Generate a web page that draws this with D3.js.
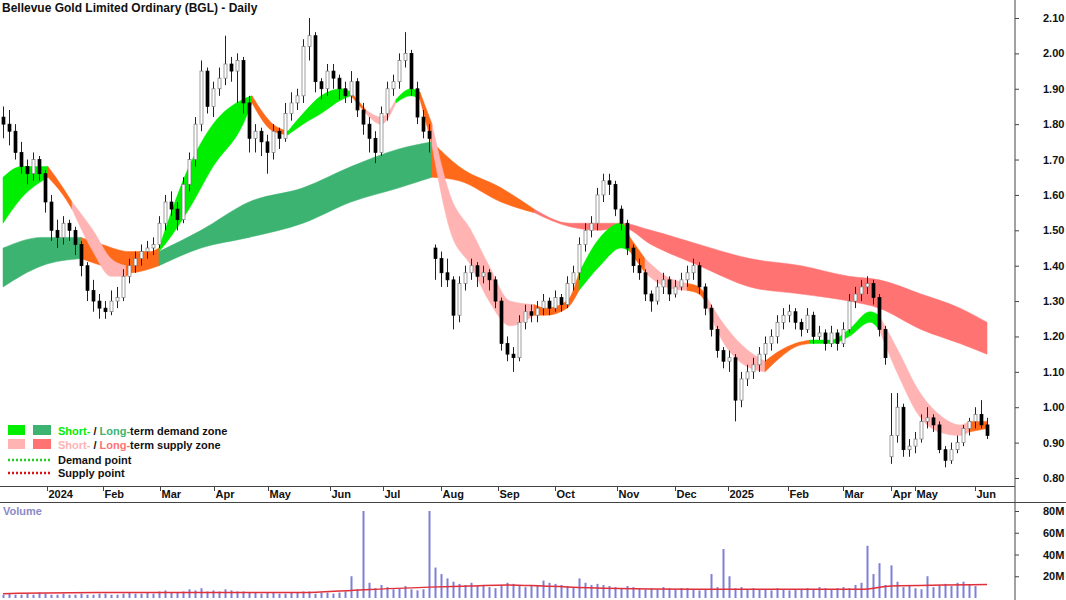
<!DOCTYPE html>
<html><head><meta charset="utf-8">
<script src="https://cdn.jsdelivr.net/npm/d3@7"></script>
<style>body{margin:0;background:#fff}svg{display:block;font-family:Arial,"Liberation Sans",sans-serif}</style>
</head><body>
<svg id="chart" width="1066" height="600"></svg>
<script>
// daily bars, "open high low close" in cents
const bars = [
"182 185 176 180","180 184 174 178","178 180 170 172","172 175 166 168","168 170 163 166","166 172 164 170","170 171 164 166","166 167 155 158",
"158 160 147 150","150 153 145 148","148 154 146 152","152 153 147 150","150 151 143 146","146 147 137 140","140 141 130 133","133 136 127 130",
"130 132 125 128","128 130 125 127","127 133 126 130","130 134 128 131","131 139 130 137","137 142 135 140","140 144 138 142","142 146 140 144",
"144 147 142 145","145 148 143 146","146 154 145 152","152 160 150 158","158 161 154 156","156 158 150 153","153 165 152 163","163 172 161 170",
"170 182 168 180","180 198 178 195","195 196 183 185","185 192 182 190","190 196 188 193","193 205 191 197","197 199 192 195","195 200 186 198",
"198 199 183 186","186 188 172 176","176 180 172 178","178 179 171 175","175 177 166 172","172 180 170 178","178 179 173 176","176 186 175 183",
"183 189 181 186","186 190 184 188","188 204 186 202","202 210 198 205","205 206 189 192","192 193 187 190","190 197 188 195","195 197 190 193",
"193 194 187 190","190 192 186 188","188 195 186 192","192 193 182 184","184 186 177 180","180 182 172 176","176 178 169 172","172 185 171 183",
"183 192 181 190","190 194 188 192","192 200 190 198","198 206 196 200","200 201 188 190","190 192 180 182","182 184 176 178","178 180 172 176",
"145 146 136 142","142 144 134 138","138 142 134 136","136 137 122 126","126 137 124 135","135 140 133 138","138 142 136 140","140 141 134 137",
"137 140 135 138","138 139 133 136","136 137 128 130","130 131 116 118","118 120 113 115","115 117 110 114","114 126 113 124","124 129 122 127",
"127 129 124 126","126 130 124 128","128 132 126 130","130 131 126 128","128 133 127 131","131 132 127 129","129 137 128 135","135 140 133 138",
"138 148 136 146","146 152 144 150","150 154 148 152","152 162 150 160","160 166 158 164","164 166 160 163","163 164 154 156","156 157 150 152",
"152 153 143 145","145 146 138 140","140 142 136 138","138 139 130 132","132 133 127 130","130 136 129 134","134 138 132 136","136 137 130 132",
"132 136 131 134","134 138 133 136","136 140 134 138","138 142 136 140","140 141 132 134","134 135 126 128","128 129 120 122","122 123 114 116",
"116 117 111 113","113 116 110 114","114 115 96 102","102 110 100 108","108 112 106 110","110 114 108 112","112 117 110 115","115 120 113 118",
"118 122 116 120","120 126 118 124","124 128 122 126","126 129 124 127","127 128 122 124","124 125 120 122","122 128 121 126","126 127 118 120",
"120 123 119 121","121 122 116 118","118 123 117 121","121 122 116 118","118 124 117 122","122 132 121 130","130 134 128 132","132 136 130 134",
"134 137 132 135","135 136 129 131","131 132 120 122","122 123 112 114","86 104 84 92","92 104 90 100","100 101 86 88","88 91 86 89",
"89 93 87 91","91 98 90 96","96 100 94 97","97 98 93 95","95 96 87 88","88 89 83 85","85 90 84 88","88 92 87 90",
"90 95 89 94","94 97 92 96","96 100 94 98","98 102 94 95","95 97 91 92"
];
// volume per bar, millions
const volume = [
3,4,3,3,4,3,5,4,3,3,4,3,3,4,3,3,4,4,3,3,4,5,4,4,5,4,6,7,5,5,6,8,
7,9,6,7,6,8,7,6,6,5,5,4,5,5,4,4,5,5,6,6,4,5,5,4,5,6,20,8,80,14,9,12,
10,8,9,11,8,7,8,80,28,22,18,15,13,12,14,11,12,10,9,12,14,13,11,10,12,11,16,14,13,12,11,10,
18,14,12,13,12,11,10,9,11,10,9,8,9,8,10,9,8,9,9,8,7,8,22,10,45,20,9,10,8,9,
8,8,7,9,8,7,8,8,9,8,10,9,8,9,10,9,12,14,48,22,32,12,30,15,10,11,9,8,20,10,12,13,
11,14,15,12,11
];
// volume average line: [bar, value M]
const volAvg = [[0,4],[16,5],[50,5],[58,7],[71,10],[78,11],[84,12],[90,11],[100,9],[116,8],[123,8],[143,8],[148,11],[164,12.5]];

// short-term band: [bar, upper, lower, state]
const shortBand = [
[0,1.65,1.52,"g"],[3,1.68,1.59,"g"],[7.5,1.68,1.65,"o"],[10,1.62,1.60,"o"],[11.5,1.58,1.56,"p"],[15,1.50,1.44,"p"],[18,1.42,1.37,"p"],
[20.5,1.40,1.37,"o"],[26,1.45,1.44,"g"],[27,1.50,1.46,"g"],[31,1.68,1.56,"g"],[35,1.80,1.68,"g"],[40,1.87,1.80,"g"],[41.5,1.88,1.86,"o"],
[45,1.80,1.78,"o"],[47.5,1.78,1.77,"g"],[50,1.83,1.80,"g"],[53,1.88,1.83,"g"],[56.5,1.90,1.87,"g"],[58,1.89,1.88,"o"],[60.5,1.84,1.83,"p"],
[63,1.82,1.80,"p"],[65.5,1.87,1.86,"g"],[68,1.90,1.88,"g"],[69.5,1.89,1.87,"o"],[71.5,1.80,1.74,"p"],[74.5,1.60,1.50,"p"],[78,1.50,1.40,"p"],
[81,1.40,1.30,"p"],[84.5,1.30,1.23,"p"],[88.5,1.29,1.26,"o"],[90.5,1.28,1.26,"o"],[94,1.30,1.28,"o"],[96,1.38,1.33,"g"],[99.5,1.48,1.40,"g"],
[103,1.52,1.45,"g"],[104.5,1.48,1.44,"o"],[107,1.42,1.38,"p"],[110.5,1.37,1.34,"p"],[114,1.35,1.33,"o"],[116,1.34,1.32,"o"],[117,1.32,1.30,"p"],
[119.5,1.25,1.20,"p"],[123.5,1.17,1.12,"p"],[127,1.13,1.10,"o"],[129.5,1.16,1.14,"o"],[132,1.18,1.17,"o"],[134.5,1.19,1.18,"g"],[138,1.19,1.18,"g"],
[141,1.22,1.20,"g"],[144.5,1.27,1.24,"g"],[146,1.26,1.22,"p"],[149.5,1.15,1.08,"p"],[152.5,1.05,0.98,"p"],[156,0.98,0.93,"p"],[159.5,0.95,0.92,"p"],
[161,0.96,0.93,"o"],[164,0.96,0.94,"o"]
];
// long-term band: [bar, upper, lower, state]
const longBand = [
[0,1.45,1.34,"G"],[6.5,1.48,1.40,"G"],[13,1.48,1.42,"o"],[16.5,1.46,1.40,"o"],[21,1.44,1.38,"o"],[26,1.44,1.40,"G"],[33,1.50,1.45,"G"],
[41,1.58,1.48,"G"],[50,1.62,1.52,"G"],[58,1.68,1.58,"G"],[66,1.73,1.62,"G"],[71.5,1.75,1.65,"o"],[76,1.68,1.64,"o"],[83,1.62,1.58,"o"],
[88.5,1.56,1.55,"r"],[94.5,1.52,1.51,"r"],[99.5,1.52,1.50,"r"],[103,1.52,1.51,"r"],[108,1.50,1.46,"r"],[116,1.46,1.40,"r"],[124.5,1.42,1.34,"r"],
[133,1.40,1.32,"r"],[141,1.37,1.30,"r"],[146,1.36,1.28,"r"],[153,1.32,1.22,"r"],[159.5,1.28,1.18,"r"],[164,1.24,1.15,"r"]
];
const priceTicks = [0.80,0.90,1.00,1.10,1.20,1.30,1.40,1.50,1.60,1.70,1.80,1.90,2.00,2.10];
const volTicks = [20,40,60,80];
const monthTicks = [[7.3,"2024"],[16.7,"Feb"],[26.2,"Mar"],[35.2,"Apr"],[44.2,"May"],[54.5,"Jun"],[63.3,"Jul"],[73,"Aug"],[82.5,"Sep"],
[92,"Oct"],[102.3,"Nov"],[112,"Dec"],[120.8,"2025"],[130.8,"Feb"],[140,"Mar"],[148,"Apr"],[152,"May"],[162,"Jun"]];

const colors = {g:"#00ee00", G:"#3cb371", o:"#ff6a1a", p:"#ffb3b3", r:"#ff7373"};

const svg = d3.select("#chart");
const plotRight = 1015;
const x = d3.scaleLinear().domain([0, 164]).range([3, 987]);
const y = d3.scaleLinear().domain([0.80, 2.10]).range([478, 18]);
const yv = d3.scaleLinear().domain([0, 80]).range([598, 511]);

// bands, one path per run of the same colour
function drawBand(band) {
  let start = 0;
  for (let i = 1; i <= band.length; i++) {
    if (i === band.length || band[i][3] !== band[start][3]) {
      const pts = band.slice(start, Math.min(i + 1, band.length));
      if (pts.length > 1) {
        svg.append("path")
          .attr("d", d3.area().curve(d3.curveMonotoneX)
            .x(d => x(d[0])).y0(d => y(d[2])).y1(d => y(d[1]))(pts))
          .attr("fill", colors[band[start][3]])
          .attr("stroke", colors[band[start][3]]).attr("stroke-width", 0.5);
      }
      start = i;
    }
  }
}
drawBand(longBand);
drawBand(shortBand);

// candles
const ohlc = bars.map(s => s.split(" ").map(v => +v / 100));
const cw = 3;
ohlc.forEach((b, i) => {
  const [o, h, l, c] = b;
  const cx = Math.round(x(i)) + 0.5;
  svg.append("line").attr("x1", cx).attr("x2", cx).attr("y1", y(h)).attr("y2", y(l))
    .attr("stroke", "#222").attr("stroke-width", 1);
  const top = y(Math.max(o, c)), bot = y(Math.min(o, c));
  svg.append("rect").attr("x", cx - cw / 2).attr("y", top).attr("width", cw).attr("height", Math.max(1, bot - top))
    .attr("fill", c >= o ? "#fff" : "#000").attr("stroke", c >= o ? "#777" : "#000").attr("stroke-width", 0.7);
});

// frame
svg.append("line").attr("x1", plotRight).attr("x2", plotRight).attr("y1", 0).attr("y2", 600).attr("stroke", "#444");
svg.append("line").attr("x1", 0).attr("x2", plotRight).attr("y1", 486.5).attr("y2", 486.5).attr("stroke", "#444");
svg.append("line").attr("x1", 0).attr("x2", 1066).attr("y1", 502.5).attr("y2", 502.5).attr("stroke", "#444");

// right price axis
svg.append("g").attr("transform", `translate(${plotRight},0)`)
  .call(d3.axisRight(y).tickValues(priceTicks).tickFormat(d3.format(".2f")).tickSize(4).tickPadding(24))
  .call(g => g.select(".domain").remove())
  .call(g => g.selectAll("text").attr("font-size", 11).attr("font-weight", "bold").attr("fill", "#111"))
  .call(g => g.selectAll("line").attr("stroke", "#444"));

// volume axis
svg.append("g").attr("transform", `translate(${plotRight},0)`)
  .call(d3.axisRight(yv).tickValues(volTicks).tickFormat(d => d + "M").tickSize(4).tickPadding(24))
  .call(g => g.select(".domain").remove())
  .call(g => g.selectAll("text").attr("font-size", 11).attr("font-weight", "bold").attr("fill", "#111"))
  .call(g => g.selectAll("line").attr("stroke", "#444"));

// month axis
const mt = svg.append("g");
monthTicks.forEach(([i, label]) => {
  const px = Math.round(x(i)) + 0.5;
  mt.append("line").attr("x1", px).attr("x2", px).attr("y1", 486).attr("y2", 491).attr("stroke", "#444");
  mt.append("text").attr("x", px + 1).attr("y", 498).attr("font-size", 11).attr("font-weight", "bold")
    .attr("fill", "#111").text(label);
});

// volume bars
volume.forEach((v, i) => {
  const px = Math.round(x(i)) + 0.5;
  svg.append("line").attr("x1", px).attr("x2", px).attr("y1", yv(0)).attr("y2", yv(v))
    .attr("stroke", "#7f7fd6").attr("stroke-width", 2);
});
svg.append("path")
  .attr("d", d3.line().curve(d3.curveMonotoneX).x(d => x(d[0])).y(d => yv(d[1]))(volAvg))
  .attr("fill", "none").attr("stroke", "#e0303a").attr("stroke-width", 1.5);
svg.append("text").attr("x", 3).attr("y", 515).attr("font-size", 11).attr("font-weight", "bold")
  .attr("fill", "#8a8ac8").text("Volume");

// title
svg.append("text").attr("x", 2).attr("y", 12).attr("font-size", 12).attr("font-weight", "bold")
  .attr("fill", "#111").text("Bellevue Gold Limited Ordinary (BGL) - Daily");

// legend
const lg = svg.append("g").attr("font-size", 11).attr("font-weight", "bold");
const rows = [
  {y: 431, c1: colors.g, c2: colors.G, t1: "Short-", t2: "Long-", rest: "term demand zone"},
  {y: 445, c1: colors.p, c2: colors.r, t1: "Short-", t2: "Long-", rest: "term supply zone"}
];
rows.forEach(r => {
  lg.append("rect").attr("x", 8).attr("y", r.y - 6).attr("width", 17).attr("height", 10).attr("fill", r.c1);
  lg.append("rect").attr("x", 33).attr("y", r.y - 6).attr("width", 18).attr("height", 10).attr("fill", r.c2);
  const t = lg.append("text").attr("x", 58).attr("y", r.y + 4);
  t.append("tspan").attr("fill", r.c1).text(r.t1);
  t.append("tspan").attr("fill", "#111").text(" / ");
  t.append("tspan").attr("fill", r.c2).text(r.t2);
  t.append("tspan").attr("fill", "#111").text(r.rest);
});
[[460, "#22cc22", "Demand point"], [473, "#dd1111", "Supply point"]].forEach(([yy, c, label]) => {
  lg.append("line").attr("x1", 8).attr("x2", 51).attr("y1", yy).attr("y2", yy)
    .attr("stroke", c).attr("stroke-width", 2.5).attr("stroke-dasharray", "2,2");
  lg.append("text").attr("x", 58).attr("y", yy + 4).attr("fill", "#111").text(label);
});
</script>
</body></html>
